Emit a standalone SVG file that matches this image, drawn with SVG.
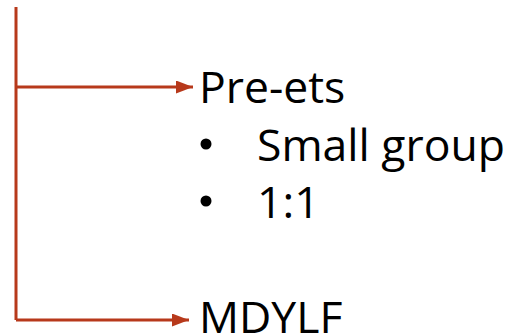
<svg xmlns="http://www.w3.org/2000/svg" width="516" height="336" viewBox="0 0 516 336">
<defs>
<marker id="ah" markerUnits="userSpaceOnUse" markerWidth="17" markerHeight="13" refX="17" refY="6.5" orient="auto"><path d="M0,0 L17,6.5 L0,13 Z" fill="#B7391B"/></marker>
</defs>
<style>
.c{fill:none;stroke:#B7391B;stroke-width:3}
.t{font-family:"Open Sans","Noto Sans",sans-serif;font-size:44.5px;fill:#000}
</style>
<rect width="516" height="336" fill="#fff"/>
<g id="connectors">
<path class="c" d="M16,7 V320"/>
<path class="c" d="M16,87 H193" marker-end="url(#ah)"/>
<path class="c" d="M16,320 H189" marker-end="url(#ah)"/>
</g>
<g id="pre-ets">
<text class="t" x="199" y="103">Pre-ets</text>
<circle cx="206" cy="144" r="5.5" fill="#000"/>
<text class="t" x="257" y="161">Small group</text>
<circle cx="206" cy="201" r="5.5" fill="#000"/>
<text class="t" x="257" y="218">1:1</text>
</g>
<g id="mdylf">
<text class="t" x="199" y="333">MDYLF</text>
</g>
</svg>
